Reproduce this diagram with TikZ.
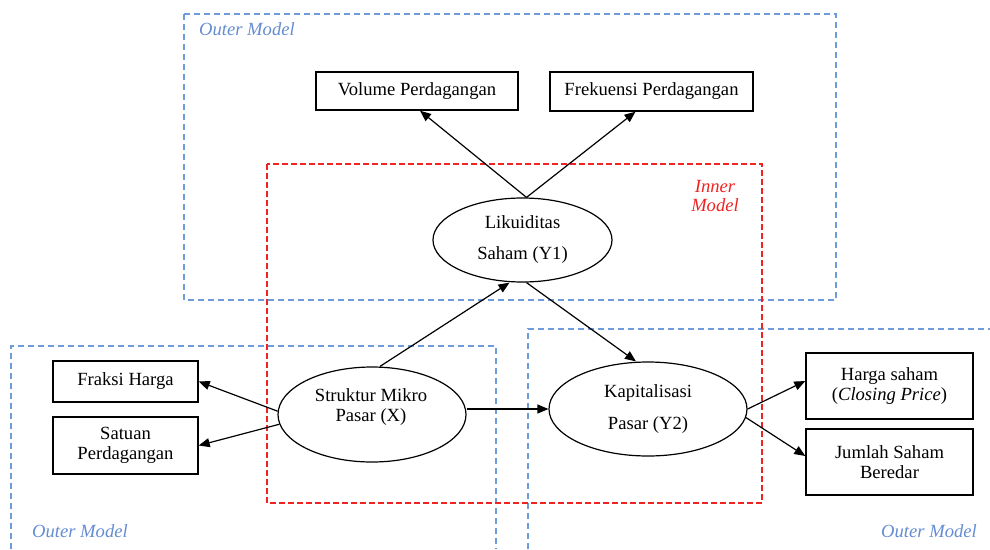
\documentclass[tikz,border=0pt]{standalone}
\usepackage{fontspec}
\setmainfont{Liberation Serif}
\usetikzlibrary{shapes.geometric,arrows.meta}
\definecolor{bluedash}{RGB}{110,155,220}
\definecolor{reddash}{RGB}{240,35,35}
\definecolor{outerlbl}{RGB}{100,140,210}
\newcommand\dgfont{\fontsize{18.6}{20}\selectfont}
\begin{document}
\begin{tikzpicture}[x=1pt,y=-1pt,
  box/.style={draw,line width=1.4pt,rectangle,inner sep=0pt,align=center,font=\dgfont},
  ell/.style={draw,line width=1.2pt,ellipse,inner sep=0pt,align=center,font=\dgfont},
  txt/.style={inner sep=0pt,align=center,font=\dgfont},
  arr/.style={line width=1.2pt,-{Triangle[length=11pt,width=9pt]}},
  bluebox/.style={draw=bluedash,line width=1.1pt,dash pattern=on 6pt off 4pt},
  redbox/.style={draw=reddash,line width=1.4pt,dash pattern=on 6pt off 3pt},
  outerlab/.style={inner sep=0pt,text=outerlbl,font=\dgfont\itshape},
  innerlab/.style={inner sep=0pt,text=reddash,align=center,font=\fontsize{18.6}{19}\selectfont\itshape}]
\useasboundingbox (0,0) rectangle (990,549);
% dashed frames
\draw[bluebox] (184,14) rectangle (836,300);
\draw[bluebox] (11,549) -- (11,346) -- (496,346) -- (496,549);
\draw[bluebox] (528,549) -- (528,329) -- (990,329);
\draw[redbox] (267,164) rectangle (762,503);
% labels
\node[outerlab,anchor=west] (ol1) at (199,29) {Outer Model};
\node[outerlab,anchor=west] (ol2) at (32,531) {Outer Model};
\node[outerlab] (ol3) at (929,531) {Outer Model};
\node[innerlab] (inl) at (715,196) {Inner\\Model};
% indicator boxes
\node[box,minimum width=202pt,minimum height=38pt] (vol) at (417,91) {Volume Perdagangan};
\node[box,minimum width=203pt,minimum height=39pt] (fre) at (651.5,91.5) {Frekuensi Perdagangan};
\node[box,minimum width=145pt,minimum height=41pt] (fra) at (125.5,381.5) {Fraksi Harga};
\node[box,minimum width=145pt,minimum height=57pt] (sat) at (125.5,445.5) {Satuan\\Perdagangan};
\node[box,minimum width=167pt,minimum height=66pt] (har) at (889.5,386) {Harga saham\\(\textit{Closing Price})};
\node[box,minimum width=167pt,minimum height=66pt] (jum) at (889.5,462) {Jumlah Saham\\Beredar};
% latent variables
\node[ell,minimum width=179pt,minimum height=84pt] (lik) at (522.5,240) {Likuiditas\\[11pt]Saham (Y1)};
\node[ell,minimum width=188pt,minimum height=95pt] (str) at (372,414.5) {};
\node[txt] (strt) at (371,407) {Struktur Mikro\\Pasar (X)};
\node[ell,minimum width=198pt,minimum height=94pt] (kap) at (648,409) {Kapitalisasi\\[12pt]Pasar (Y2)};
% connectors
\draw[arr] ([xshift=4pt]lik.north) -- ([xshift=3pt]vol.south);
\draw[arr] ([xshift=4pt]lik.north) -- ([xshift=-16pt]fre.south);
\draw[arr] ([xshift=8pt]str.north) -- ([xshift=-13pt]lik.south);
\draw[arr] ([xshift=4pt]lik.south) -- ([xshift=-12pt]kap.north);
\draw[arr] (str.east |- kap.west) -- (kap.west);
\draw[arr] (str.178) -- (fra.east);
\draw[arr] (str.186) -- (sat.east);
\draw[arr] (kap.east) -- ([yshift=5pt]har.west);
\draw[arr] (kap.355) -- ([yshift=6pt]jum.west);
\end{tikzpicture}
\end{document}
